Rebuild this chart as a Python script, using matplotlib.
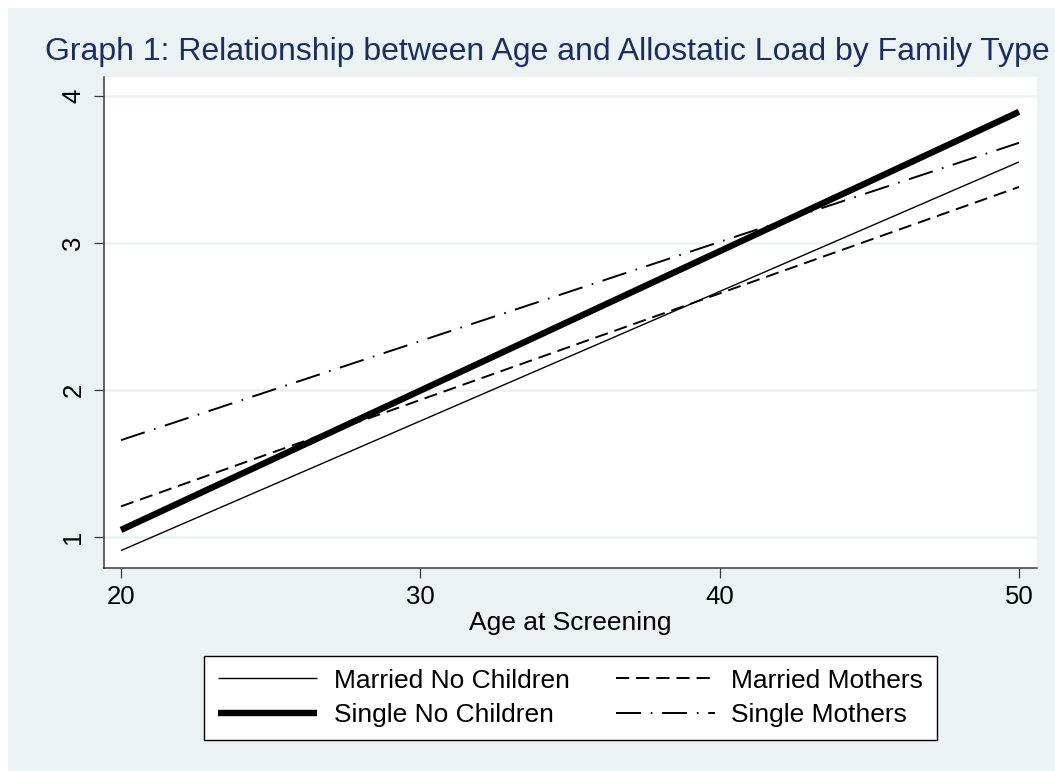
import matplotlib
matplotlib.use("Agg")
import matplotlib.pyplot as plt
from matplotlib.patches import Rectangle

# fitted lines at the two ends of the age range
ages = [20, 50]
married_no_children = [0.91, 3.55]
married_mothers = [1.21, 3.38]
single_no_children = [1.05, 3.89]
single_mothers = [1.66, 3.68]

x_ticks = [20, 30, 40, 50]
y_ticks = [1, 2, 3, 4]

title = "Graph 1: Relationship between Age and Allostatic Load by Family Type"
x_label = "Age at Screening"

bg = "#EAF2F3"
navy = "#1E2E5C"

plt.rcParams["font.family"] = ["Liberation Sans", "DejaVu Sans"]
plt.rcParams["lines.scale_dashes"] = False

fig = plt.figure(figsize=(10.55, 7.71), dpi=100, facecolor="white")
W, H = 1055, 771
# graph region (light bluish gray), small white margin top/left
fig.patches.append(Rectangle((8 / W, 0), 1, 1 - 8 / H, transform=fig.transFigure,
                             facecolor=bg, edgecolor="none", zorder=-5))

ax = fig.add_axes([104 / W, 1 - 568 / H, (1037 - 104) / W, (568 - 77) / H])
ax.set_facecolor("white")

ax.plot(ages, married_no_children, color="black", lw=1.0, solid_capstyle="butt",
        label="Married No Children")
ax.plot(ages, single_no_children, color="black", lw=4.6, solid_capstyle="butt",
        label="Single No Children")
ax.plot(ages, married_mothers, color="black", lw=1.4, dashes=(9.5, 5),
        dash_capstyle="butt", label="Married Mothers")
ax.plot(ages, single_mothers, color="black", lw=1.4, dashes=(18, 7, 1.2, 7),
        dash_capstyle="butt", label="Single Mothers")

ax.set_xlim(19.432, 50.601)
ax.set_ylim(0.7914, 4.127)
ax.set_xticks(x_ticks)
ax.set_yticks(y_ticks)
ax.yaxis.grid(True, color=bg, lw=1.8)
ax.set_axisbelow(True)

for side in ["top", "right"]:
    ax.spines[side].set_visible(False)
for side in ["left", "bottom"]:
    ax.spines[side].set_color("#3a3a3a")
    ax.spines[side].set_linewidth(1.1)

ax.tick_params(axis="both", direction="out", length=7.5, width=0.9, color="#3a3a3a",
               labelsize=18.5, labelcolor="black")
ax.tick_params(axis="x", pad=5)
ax.tick_params(axis="y", pad=6)
for lbl in ax.get_yticklabels():
    lbl.set_rotation(90)
    lbl.set_va("center")

ax.set_xlabel(x_label, fontsize=19, labelpad=1)

fig.text(45 / W, 1 - 60 / H, title, fontsize=23, color=navy, ha="left", va="baseline")

leg = fig.legend(loc="center", bbox_to_anchor=((201 + 940) / 2 / W, 1 - 698 / H),
                 ncol=2, fontsize=19, frameon=True, fancybox=False, shadow=False,
                 framealpha=1, handlelength=3.75, handletextpad=0.64,
                 columnspacing=1.75, borderpad=0.5, labelspacing=0.4, borderaxespad=0)
leg.get_frame().set_edgecolor("black")
leg.get_frame().set_linewidth(1.0)
leg.get_frame().set_facecolor("white")

fig.savefig("out.png", dpi=100, facecolor=fig.get_facecolor())
